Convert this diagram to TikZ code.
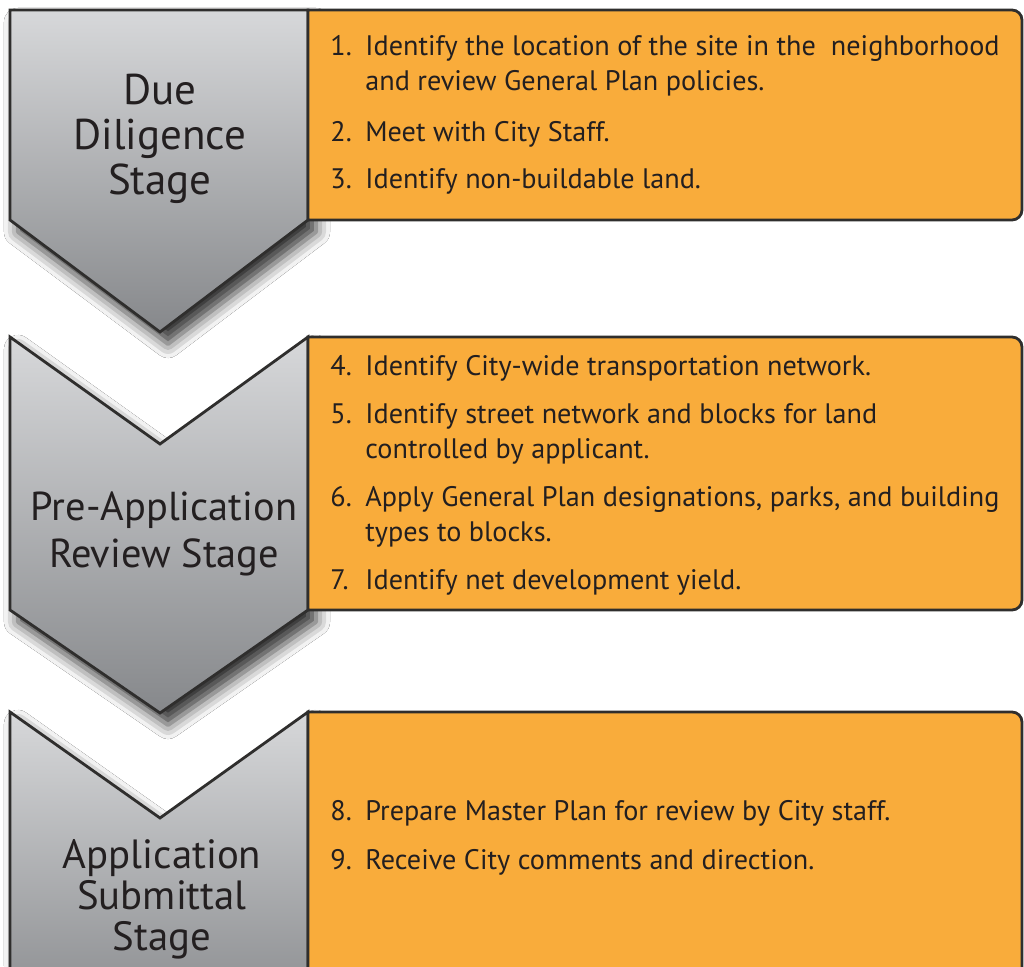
\documentclass[tikz,border=0pt]{standalone}
\usepackage{fontspec}
\setmainfont{PT Sans}
\usetikzlibrary{shadows.blur}
\definecolor{stageorange}{HTML}{F9AC3B}
\definecolor{chevtop}{HTML}{D7D8DA}
\definecolor{chevbot}{HTML}{86888B}
\definecolor{edgegray}{HTML}{2F2E2D}
\definecolor{ink}{HTML}{231F20}
% one numbered step: number, then text (second line after \\ &)
\newcommand\stepline[2]{\begin{tabular}[t]{@{}p{17.5pt}@{}l@{}}#1.&#2\end{tabular}}
\tikzset{
	chevron/.style={draw=edgegray,line width=1.4pt,line join=miter,
		blur shadow={shadow xshift=4pt,shadow yshift=-6pt,shadow blur radius=7pt,shadow opacity=80}},
	stepbox/.style={draw=edgegray,line width=1.4pt,fill=stageorange},
	stagelabel/.style={align=center,inner sep=0pt,text=ink},
	stepitem/.style={anchor=base west,inner sep=0pt,text=ink,font=\fontsize{14.1}{17.5}\selectfont}
}
\begin{document}
\begin{tikzpicture}[x=0.5pt,y=0.5pt]
	\clip (0,0) rectangle (1024,966);
	\fill[white] (0,0) rectangle (1024,966);
	\def\xl{10} % left edge of the chevrons
	\def\xm{160} % middle of the chevrons
	\def\xr{308} % right edge of the chevrons = left edge of the boxes
	\def\xe{1022} % right edge of the boxes
	% chevrons
	\draw[chevron,top color=chevtop,bottom color=chevbot]
	(\xl,956)--(\xr,956)--(\xr,746)--(\xm,634)--(\xl,746)--cycle;
	\draw[chevron,top color=chevtop,bottom color=chevbot]
	(\xl,629)--(\xm,522)--(\xr,629)--(\xr,356)--(\xm,253)--(\xl,356)--cycle;
	\draw[chevron,top color=chevtop,bottom color=chevbot!90!chevtop]
	(\xl,254)--(\xm,148)--(\xr,254)--(\xr,-30)--(\xl,-30)--cycle;
	% orange boxes
	\draw[stepbox] (\xr,746)--(\xr,956) [rounded corners=5pt]--(\xe,956)--(\xe,746) [sharp corners]--cycle;
	\draw[stepbox] (\xr,356)--(\xr,629) [rounded corners=5pt]--(\xe,629)--(\xe,356) [sharp corners]--cycle;
	\draw[stepbox] (\xr,-30)--(\xr,254) [rounded corners=5pt]--(\xe,254)--(\xe,-30) [sharp corners]--cycle;
	% stage names
	\node[stagelabel,font=\fontsize{21.5}{22.5}\selectfont] (due) at (\xm,827) {Due\\Diligence\\Stage};
	\node[stagelabel,font=\fontsize{20.2}{23.5}\selectfont] (preapp) at (164,432) {Pre-Application\\Review Stage};
	\node[stagelabel,font=\fontsize{20.4}{20.5}\selectfont] (submit) at (162,67) {Application\\Submittal\\Stage};
	% steps
	\node[stepitem] (s1) at (330,910) {\stepline{1}{Identify the location of the site in the\ \ neighborhood\\ & and review General Plan policies.}};
	\node[stepitem] (s2) at (330,824) {\stepline{2}{Meet with City Staff.}};
	\node[stepitem] (s3) at (330,777) {\stepline{3}{Identify non-buildable land.}};
	\node[stepitem] (s4) at (330,590) {\stepline{4}{Identify City-wide transportation network.}};
	\node[stepitem] (s5) at (330,542) {\stepline{5}{Identify street network and blocks for land\\ & controlled by applicant.}};
	\node[stepitem] (s6) at (330,459) {\stepline{6}{Apply General Plan designations, parks, and building\\ & types to blocks.}};
	\node[stepitem] (s7) at (330,377) {\stepline{7}{Identify net development yield.}};
	\node[stepitem] (s8) at (330,146) {\stepline{8}{Prepare Master Plan for review by City staff.}};
	\node[stepitem] (s9) at (330,97) {\stepline{9}{Receive City comments and direction.}};
\end{tikzpicture}
\end{document}
